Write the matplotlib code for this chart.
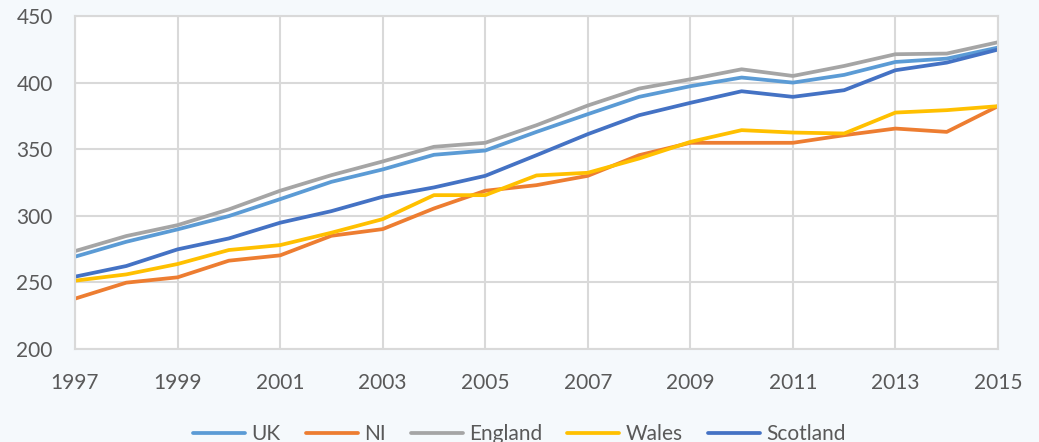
import matplotlib
matplotlib.use("Agg")
import matplotlib.pyplot as plt

years = list(range(1997, 2016))
uk = [269.3, 280.5, 289.8, 299.8, 312.5, 325.5, 334.8, 345.8, 349.0, 363.0, 376.3, 389.3, 397.3, 403.8, 400.0, 405.8, 415.5, 418.0, 426.3]
ni = [237.8, 249.8, 253.8, 266.3, 270.3, 285.0, 290.0, 305.5, 318.8, 323.0, 330.0, 345.5, 354.8, 354.8, 354.8, 360.5, 365.5, 363.0, 382.3]
england = [273.5, 284.8, 293.0, 304.8, 318.8, 330.5, 340.8, 351.8, 354.8, 368.0, 382.8, 395.5, 402.5, 410.0, 405.0, 412.5, 421.3, 421.8, 430.3]
wales = [251.3, 256.0, 263.8, 274.3, 278.0, 287.3, 297.5, 315.5, 315.5, 330.3, 332.3, 343.0, 355.5, 364.3, 362.5, 361.8, 377.5, 379.3, 382.3]
scotland = [254.3, 262.3, 274.8, 283.0, 294.8, 303.5, 314.3, 321.3, 330.0, 345.5, 361.3, 375.5, 384.8, 393.5, 389.3, 394.3, 409.3, 415.0, 424.8]

series = [("UK", uk, "#5B9BD5"), ("NI", ni, "#ED7D31"), ("England", england, "#A5A5A5"),
          ("Wales", wales, "#FFC000"), ("Scotland", scotland, "#4472C4")]

plt.rcParams['font.family'] = ['Lato', 'DejaVu Sans']

fig = plt.figure(figsize=(10.39, 4.42), dpi=100)
fig.patch.set_facecolor("#F5F9FC")
ax = fig.add_axes([75/1039, 1-349/442, (998-75)/1039, (349-16)/442])
ax.set_facecolor("white")

for name, vals, col in series:
    ax.plot(years, vals, color=col, lw=2.7, label=name, solid_capstyle='round')

ax.set_xlim(1997, 2015)
ax.set_ylim(200, 450)
ax.set_xticks(range(1997, 2016, 2))
ax.set_yticks(range(200, 451, 50))
ax.grid(True, color="#D9D9D9", lw=1.5)
ax.set_axisbelow(True)
for s in ax.spines.values():
    s.set_color("#D9D9D9")
    s.set_linewidth(1.5)
ax.tick_params(length=0, labelsize=15, labelcolor="#595959")
ax.tick_params(axis='x', pad=17)
ax.tick_params(axis='y', pad=16)

leg = fig.legend(loc='center', bbox_to_anchor=(0.5, 1-434/442), ncol=5, frameon=False,
                 fontsize=15, handlelength=2.5, handletextpad=0.3, columnspacing=1.2)
for t in leg.get_texts():
    t.set_color("#595959")

fig.savefig("out.png", dpi=100, facecolor=fig.get_facecolor())
